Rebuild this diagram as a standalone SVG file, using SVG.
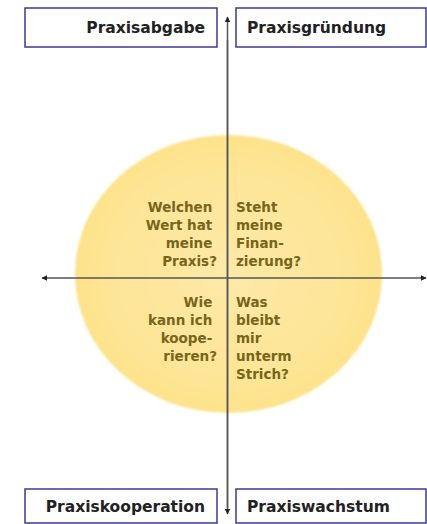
<svg xmlns="http://www.w3.org/2000/svg" width="427" height="524" viewBox="0 0 427 524">
  <style>
    .box { fill: #ffffff; stroke: #3b3a98; stroke-width: 1.5; }
    .lbl { font-family: "DejaVu Sans", Verdana, sans-serif; font-weight: bold; font-size: 15.5px; fill: #222222; }
    .q { font-family: "DejaVu Sans", Verdana, sans-serif; font-weight: bold; font-size: 13.5px; fill: #76651a; }
    .axis { stroke: #555555; stroke-width: 1.5; fill: none; }
  </style>
  <defs>
    <radialGradient id="sun" cx="0.5" cy="0.5" r="0.5">
      <stop offset="0" stop-color="#fde9a8"/>
      <stop offset="0.8" stop-color="#fde595"/>
      <stop offset="1" stop-color="#fde28a"/>
    </radialGradient>
    <filter id="soft" x="-5%" y="-5%" width="110%" height="110%">
      <feGaussianBlur stdDeviation="1.2"/>
    </filter>
    <marker id="ah" viewBox="0 0 10 10" refX="9" refY="5" markerWidth="4" markerHeight="4" orient="auto" markerUnits="strokeWidth">
      <path d="M0,0 L10,5 L0,10 z" fill="#222222"/>
    </marker>
  </defs>

  <rect width="427" height="524" fill="#ffffff"/>

  <g id="circle">
    <ellipse cx="228.5" cy="274" rx="153.5" ry="139" fill="url(#sun)" filter="url(#soft)"/>
  </g>

  <g id="connectors">
    <line class="axis" x1="227.5" y1="508" x2="227.5" y2="17" marker-end="url(#ah)"/>
    <line class="axis" x1="227.5" y1="40" x2="227.5" y2="514" marker-end="url(#ah)"/>
    <line class="axis" x1="228" y1="278" x2="42" y2="278" marker-end="url(#ah)"/>
    <line class="axis" x1="228" y1="278" x2="426" y2="278" marker-end="url(#ah)"/>
  </g>

  <g id="praxisabgabe">
    <rect class="box" x="25" y="8" width="192" height="39"/>
    <text class="lbl" x="205" y="33" text-anchor="end">Praxisabgabe</text>
  </g>
  <g id="praxisgruendung">
    <rect class="box" x="236" y="8" width="190" height="39"/>
    <text class="lbl" x="247" y="33">Praxisgründung</text>
  </g>
  <g id="praxiskooperation">
    <rect class="box" x="25" y="489" width="192" height="34"/>
    <text class="lbl" x="205" y="512" text-anchor="end">Praxiskooperation</text>
  </g>
  <g id="praxiswachstum">
    <rect class="box" x="236" y="489" width="190" height="34"/>
    <text class="lbl" x="247" y="512">Praxiswachstum</text>
  </g>

  <g id="q-wert">
    <text class="q" text-anchor="end">
      <tspan x="217" y="212">Welchen</tspan>
      <tspan x="217" y="230">Wert hat</tspan>
      <tspan x="217" y="248">meine</tspan>
      <tspan x="217" y="266">Praxis?</tspan>
    </text>
  </g>
  <g id="q-finanzierung">
    <text class="q">
      <tspan x="236" y="212">Steht</tspan>
      <tspan x="236" y="230">meine</tspan>
      <tspan x="236" y="248">Finan-</tspan>
      <tspan x="236" y="266">zierung?</tspan>
    </text>
  </g>
  <g id="q-kooperieren">
    <text class="q" text-anchor="end">
      <tspan x="217" y="307">Wie</tspan>
      <tspan x="217" y="325">kann ich</tspan>
      <tspan x="217" y="343">koope-</tspan>
      <tspan x="217" y="361">rieren?</tspan>
    </text>
  </g>
  <g id="q-strich">
    <text class="q">
      <tspan x="236" y="307">Was</tspan>
      <tspan x="236" y="325">bleibt</tspan>
      <tspan x="236" y="343">mir</tspan>
      <tspan x="236" y="361">unterm</tspan>
      <tspan x="236" y="379">Strich?</tspan>
    </text>
  </g>
</svg>
